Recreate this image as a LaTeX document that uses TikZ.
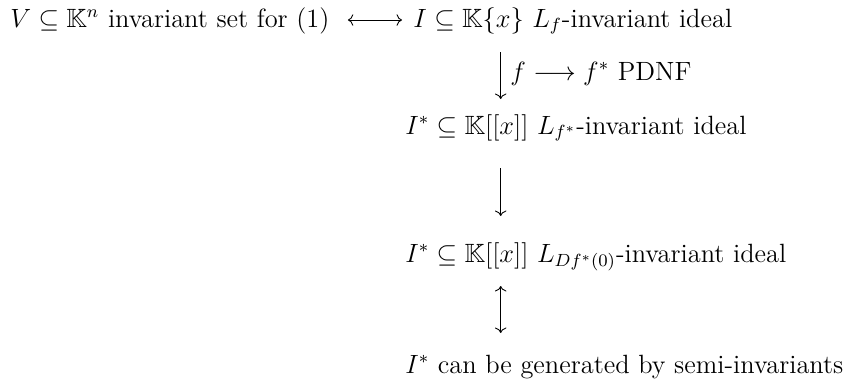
\documentclass[tikz,border=0pt]{standalone}
\usepackage{amsmath,amssymb}
\usetikzlibrary{arrows.meta,calc}

\begin{document}
\begin{tikzpicture}[x=0.4545pt,y=-0.4545pt,
  stmt/.style={anchor=base west,inner sep=0pt,font=\large},
  impl/.style={-{Computer Modern Rightarrow},line width=0.4pt},
  equiv/.style={{Computer Modern Rightarrow}-{Computer Modern Rightarrow},line width=0.4pt}]
\useasboundingbox (0,0) rectangle (860,385);

\node[stmt] (vset) at (10,27) {$V \subseteq \mathbb{K}^n$ invariant set for (1)};
\node[stmt] (ideal) at (413,27) {$I \subseteq \mathbb{K}\{x\}$ $L_f$-invariant ideal};
\node[stmt] (formal) at (405,134) {$I^* \subseteq \mathbb{K}[[x]]$ $L_{f^*}$-invariant ideal};
\node[stmt] (linear) at (405,262) {$I^* \subseteq \mathbb{K}[[x]]$ $L_{Df^*(0)}$-invariant ideal};
\node[stmt] (semi) at (405,373) {$I^*$ can be generated by semi-invariants};

\coordinate (col) at (500.7,0);

% the horizontal equivalence
\draw[equiv] ($(vset.base east)+(18,-7)$) -- ($(ideal.base west)+(-11,-7)$);

% down the column
\draw[impl] ($(ideal.base -| col)+(0,25)$) -- ($(formal.base -| col)+(0,-35)$);
\node[stmt] (subst) at (510,80) {$f \longrightarrow f^*$ PDNF};
\draw[impl] ($(formal.base -| col)+(0,34)$) -- ($(linear.base -| col)+(0,-46)$);
\draw[equiv] ($(linear.base -| col)+(0,24)$) -- ($(semi.base -| col)+(0,-40)$);

\end{tikzpicture}
\end{document}
